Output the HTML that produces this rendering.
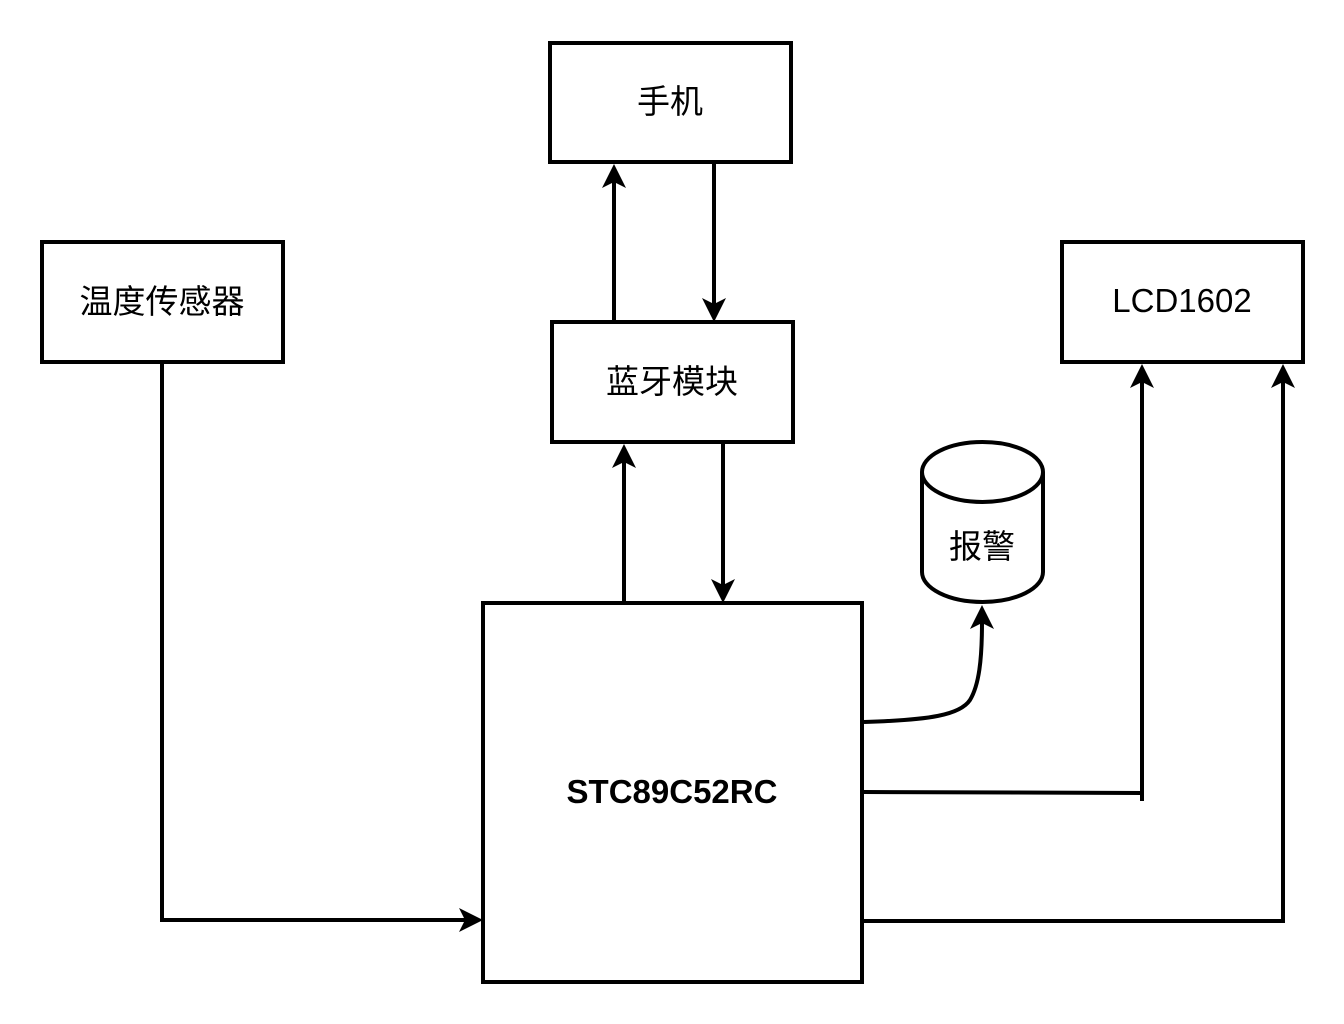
<!DOCTYPE html>
<html><head><meta charset="utf-8"><style>
html,body{margin:0;padding:0;background:#fff;}
svg{display:block;}
text{font-family:"Liberation Sans","Noto Sans CJK SC",sans-serif;font-size:33px;fill:#000;}
</style></head><body>
<svg width="1344" height="1024" viewBox="0 0 1344 1024" xmlns="http://www.w3.org/2000/svg">
<g fill="none" stroke="#000" stroke-width="4">
<rect x="550" y="43" width="241" height="119" fill="#fff"/>
<rect x="42" y="242" width="241" height="120" fill="#fff"/>
<rect x="1062" y="242" width="241" height="120" fill="#fff"/>
<rect x="552" y="322" width="241" height="120" fill="#fff"/>
<rect x="483" y="603" width="379" height="379" fill="#fff"/>
<path d="M922 472 L922 572 A60.5 30 0 0 0 1043 572 L1043 472 A60.5 30 0 0 0 922 472 A60.5 30 0 0 0 1043 472" fill="#fff"/>
<path d="M614 322 V180"/>
<path d="M714 164 V306"/>
<path d="M624 603 V460"/>
<path d="M723 443 V587"/>
<path d="M162 362 V920 H466"/>
<path d="M864 722 C930 720 960 715 970 700 C979 685 982 660 982 622"/>
<path d="M864 792 L1142 793 M1142 801 V380"/>
<path d="M864 921 H1283 V380"/>
</g>
<g fill="#000">
<path d="M614 164 L602 188 L614 182 L626 188 Z"/>
<path d="M714 322 L702 298 L714 304 L726 298 Z"/>
<path d="M624 444 L612 468 L624 462 L636 468 Z"/>
<path d="M723 603 L711 579 L723 585 L735 579 Z"/>
<path d="M483 920 L459 908 L465 920 L459 932 Z"/>
<path d="M982 605 L970 629 L982 623 L994 629 Z"/>
<path d="M1142 364 L1130 388 L1142 382 L1154 388 Z"/>
<path d="M1283 364 L1271 388 L1283 382 L1295 388 Z"/>
</g>
<text x="670" y="113" text-anchor="middle">手机</text>
<text x="162" y="313" text-anchor="middle">温度传感器</text>
<text x="1182" y="312" text-anchor="middle">LCD1602</text>
<text x="672" y="393" text-anchor="middle">蓝牙模块</text>
<text x="982" y="558" text-anchor="middle">报警</text>
<text x="672" y="803" text-anchor="middle" style="font-weight:bold">STC89C52RC</text>
</svg>
</body></html>
